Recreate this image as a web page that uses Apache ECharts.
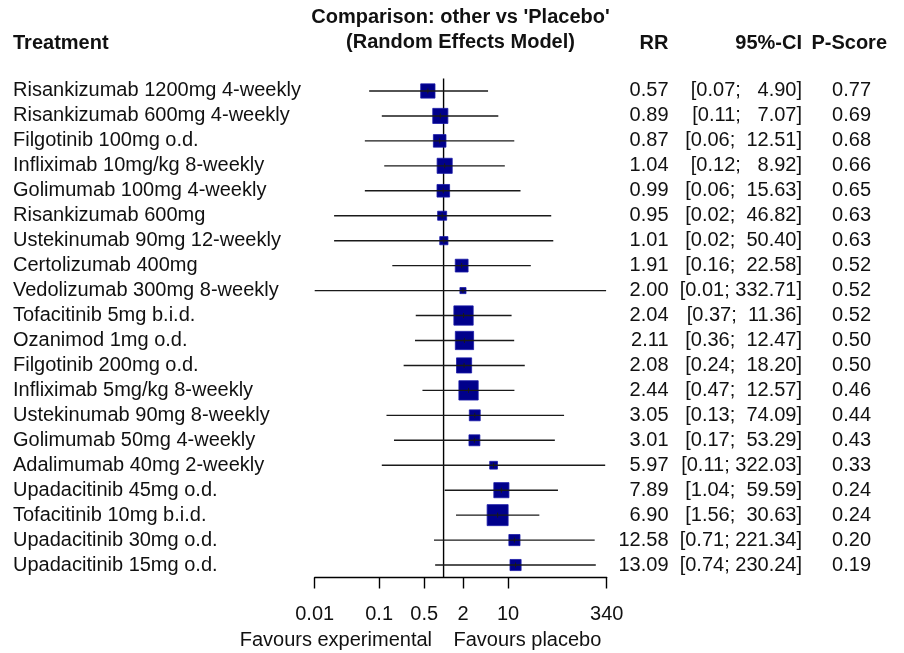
<!DOCTYPE html>
<html>
<head>
<meta charset="utf-8">
<script src="https://cdn.jsdelivr.net/npm/echarts@6/dist/echarts.min.js"></script>
<style>
html,body{margin:0;padding:0;background:#fff;}
#chart{width:904px;height:653px;}
</style>
</head>
<body>
<div id="chart"></div>
<script>
var treatments = [
  "Risankizumab 1200mg 4-weekly",
  "Risankizumab 600mg 4-weekly",
  "Filgotinib 100mg o.d.",
  "Infliximab 10mg/kg 8-weekly",
  "Golimumab 100mg 4-weekly",
  "Risankizumab 600mg",
  "Ustekinumab 90mg 12-weekly",
  "Certolizumab 400mg",
  "Vedolizumab 300mg 8-weekly",
  "Tofacitinib 5mg b.i.d.",
  "Ozanimod 1mg o.d.",
  "Filgotinib 200mg o.d.",
  "Infliximab 5mg/kg 8-weekly",
  "Ustekinumab 90mg 8-weekly",
  "Golimumab 50mg 4-weekly",
  "Adalimumab 40mg 2-weekly",
  "Upadacitinib 45mg o.d.",
  "Tofacitinib 10mg b.i.d.",
  "Upadacitinib 30mg o.d.",
  "Upadacitinib 15mg o.d."
];
var rr = [0.57,0.89,0.87,1.04,0.99,0.95,1.01,1.91,2.00,2.04,2.11,2.08,2.44,3.05,3.01,5.97,7.89,6.90,12.58,13.09];
var ciLower = [0.07,0.11,0.06,0.12,0.06,0.02,0.02,0.16,0.01,0.37,0.36,0.24,0.47,0.13,0.17,0.11,1.04,1.56,0.71,0.74];
var ciUpper = [4.90,7.07,12.51,8.92,15.63,46.82,50.40,22.58,332.71,11.36,12.47,18.20,12.57,74.09,53.29,322.03,59.59,30.63,221.34,230.24];
var pScore = [0.77,0.69,0.68,0.66,0.65,0.63,0.63,0.52,0.52,0.52,0.50,0.50,0.46,0.44,0.43,0.33,0.24,0.24,0.20,0.19];
// relative weights (box size in the forest plot)
var weights = [0.68,0.72,0.60,0.72,0.60,0.43,0.39,0.61,0.29,0.92,0.87,0.72,0.92,0.52,0.52,0.37,0.72,1.00,0.53,0.53];
var referenceValue = 1;
var tickValues = [0.01,0.1,0.5,2,10,340];
var tickLabels = ["0.01","0.1","0.5","2","10","340"];

var FONT = '"Liberation Sans", Arial, sans-serif';
var chart = echarts.init(document.getElementById('chart'), null, {renderer:'canvas'});

function padLeft(s, n){ while (s.length < n) s = ' ' + s; return s; }

var data = rr.map(function(v, i){ return [v, ciLower[i], ciUpper[i], i]; });

var option = {
  animation: false,
  backgroundColor: '#ffffff',
  grid: {left: 314.7, right: 297.3, top: 78.5, height: 499, containLabel: false},
  xAxis: {
    type: 'log', logBase: 10, min: 0.01, max: 340,
    splitLine: {show: false},
    axisLine: {show: true, lineStyle: {color: '#000', width: 1.4}},
    axisTick: {show: true, customValues: tickValues, length: 11, inside: false, lineStyle: {color: '#000', width: 1.4}},
    axisLabel: {
      show: true, customValues: tickValues, margin: 27,
      fontFamily: FONT, fontSize: 20, color: '#111',
      formatter: function(v){
        for (var k = 0; k < tickValues.length; k++) {
          if (Math.abs(tickValues[k] - v) < 1e-6 * Math.max(1, v)) return tickLabels[k];
        }
        return '';
      }
    }
  },
  yAxis: {
    type: 'category', data: treatments, inverse: true, show: false,
    boundaryGap: true
  },
  graphic: [
    {type:'text', x: 460.5, y: 17, style:{text:"Comparison: other vs 'Placebo'", font:'bold 20px ' + FONT, fill:'#111', align:'center', verticalAlign:'middle'}},
    {type:'text', x: 460.5, y: 42.5, style:{text:"(Random Effects Model)", font:'bold 20px ' + FONT, fill:'#111', align:'center', verticalAlign:'middle'}},
    {type:'text', x: 13, y: 43, style:{text:"Treatment", font:'bold 20px ' + FONT, fill:'#111', align:'left', verticalAlign:'middle'}},
    {type:'text', x: 668.5, y: 43, style:{text:"RR", font:'bold 20px ' + FONT, fill:'#111', align:'right', verticalAlign:'middle'}},
    {type:'text', x: 802, y: 43, style:{text:"95%-CI", font:'bold 20px ' + FONT, fill:'#111', align:'right', verticalAlign:'middle'}},
    {type:'text', x: 887, y: 43, style:{text:"P-Score", font:'bold 20px ' + FONT, fill:'#111', align:'right', verticalAlign:'middle'}},
    {type:'text', x: 432, y: 640, style:{text:"Favours experimental", font:'20px ' + FONT, fill:'#111', align:'right', verticalAlign:'middle'}},
    {type:'text', x: 453.5, y: 640, style:{text:"Favours placebo", font:'20px ' + FONT, fill:'#111', align:'left', verticalAlign:'middle'}}
  ],
  series: [{
    type: 'custom',
    clip: false,
    data: data,
    encode: {x: 0, y: 3},
    renderItem: function(params, api){
      var i = params.dataIndex;
      var cs = params.coordSys;
      var c = api.coord([rr[i], i]);
      var cl = api.coord([ciLower[i], i]);
      var cu = api.coord([ciUpper[i], i]);
      var ref = api.coord([referenceValue, i]);
      var s = weights[i] * 21;
      var y = c[1];
      var font = '20px ' + FONT;
      var ciText = '[' + ciLower[i].toFixed(2) + '; ' + padLeft(ciUpper[i].toFixed(2), 6) + ']';
      var children = [];
      if (i === 0) {
        children.push({type:'line', shape:{x1: ref[0], y1: cs.y, x2: ref[0], y2: cs.y + cs.height},
          style:{stroke:'#000', lineWidth: 1.4}, z2: 0});
      }
      children.push(
          {type:'rect', shape:{x: c[0] - s/2, y: y - s/2, width: s, height: s},
           style:{fill:'#00008B', stroke:'#1a1aa8', lineWidth: 0.8}, z2: 2},
          {type:'line', shape:{x1: cl[0], y1: y, x2: cu[0], y2: y},
           style:{stroke:'#1a1a1a', lineWidth: 1.4}, z2: 3},
          {type:'line', shape:{x1: c[0], y1: y - 2.5, x2: c[0], y2: y + 2.5},
           style:{stroke:'#1a1a1a', lineWidth: 1}, z2: 3},
          {type:'text', style:{text: treatments[i], x: 13, y: y, font: font, fill:'#111', align:'left', verticalAlign:'middle'}},
          {type:'text', style:{text: rr[i].toFixed(2), x: 668.5, y: y, font: font, fill:'#111', align:'right', verticalAlign:'middle'}},
          {type:'text', style:{text: ciText, x: 802, y: y, font: font, fill:'#111', align:'right', verticalAlign:'middle'}},
          {type:'text', style:{text: pScore[i].toFixed(2), x: 871, y: y, font: font, fill:'#111', align:'right', verticalAlign:'middle'}}
      );
      return {type: 'group', children: children};
    },
    z: 3
  }]
};
chart.setOption(option);
</script>
</body>
</html>
